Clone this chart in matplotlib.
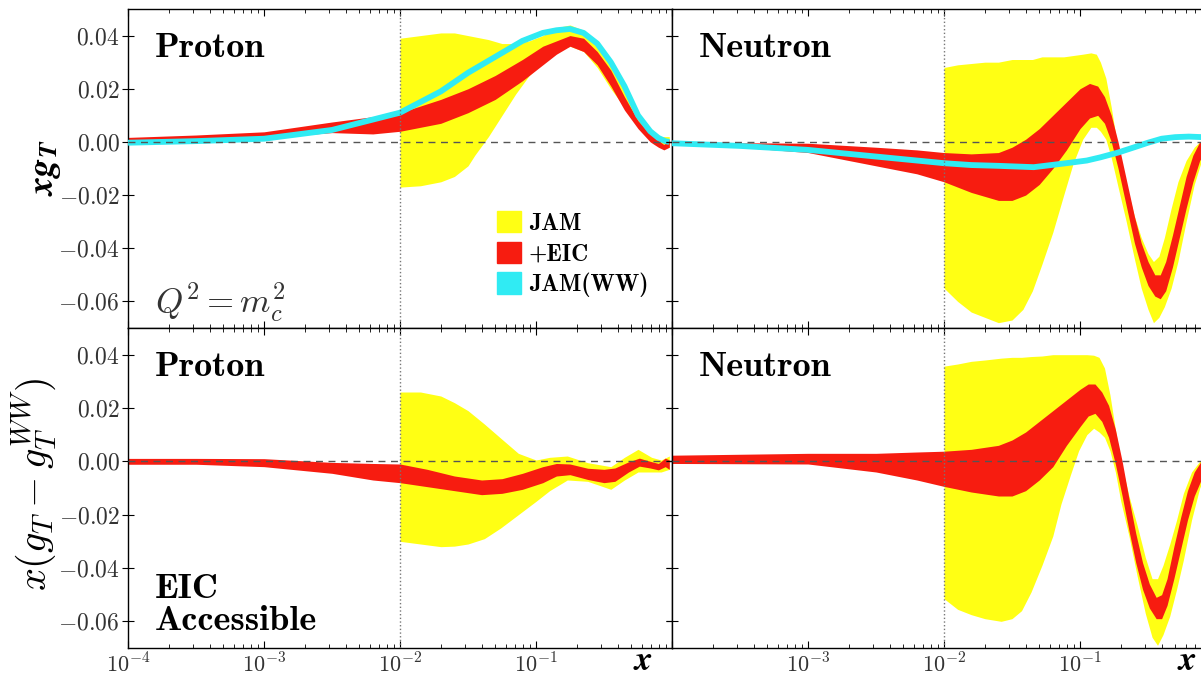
import numpy as np
import matplotlib
matplotlib.use("Agg")
import matplotlib.pyplot as plt
from matplotlib.patches import Patch
from matplotlib.ticker import FixedLocator, FixedFormatter, LogLocator, NullFormatter

plt.rcParams['mathtext.fontset'] = 'cm'
plt.rcParams['font.family'] = ['cmr10', 'DejaVu Serif']
plt.rcParams['axes.unicode_minus'] = False

# x positions are given as log10(x)

# ---- top left: proton x g_T ----
p_red_lx = [-4.0, -3.5, -3.0, -2.5, -2.2, -2.0, -1.7, -1.5, -1.3, -1.1, -0.95, -0.85, -0.75,
            -0.65, -0.55, -0.45, -0.35, -0.25, -0.16, -0.1, -0.06, -0.02]
p_red_hi = [0.0017, 0.0026, 0.0038, 0.0075, 0.0095, 0.011, 0.016, 0.020, 0.025, 0.031, 0.036, 0.038, 0.040,
            0.039, 0.034, 0.027, 0.017, 0.008, 0.003, 0.0005, -0.001, 0.001]
p_red_lo = [0.0005, 0.0008, 0.0015, 0.0035, 0.003, 0.004, 0.007, 0.011, 0.016, 0.023, 0.029, 0.033, 0.036,
            0.034, 0.029, 0.021, 0.012, 0.005, 0.0, -0.002, -0.003, -0.002]

p_yel_lx = [-2.0, -1.85, -1.7, -1.6, -1.5, -1.45, -1.35, -1.25, -1.15, -1.05, -0.95, -0.85, -0.75,
            -0.65, -0.55, -0.45, -0.35, -0.25, -0.15, -0.08, -0.02]
p_yel_hi = [0.039, 0.040, 0.041, 0.041, 0.040, 0.0395, 0.0385, 0.037, 0.037, 0.038, 0.040, 0.043, 0.044,
            0.042, 0.037, 0.029, 0.020, 0.011, 0.004, 0.002, 0.002]
p_yel_lo = [-0.017, -0.0165, -0.015, -0.013, -0.009, -0.005, 0.002, 0.010, 0.018, 0.025, 0.030, 0.034, 0.036,
            0.034, 0.028, 0.020, 0.013, 0.006, 0.001, -0.002, -0.002]

p_ww_lx = [-4.0, -3.5, -3.0, -2.5, -2.0, -1.7, -1.5, -1.3, -1.1, -0.95, -0.85, -0.75, -0.65,
           -0.55, -0.45, -0.35, -0.25, -0.16, -0.1, -0.05, -0.02]
p_ww = [-0.0003, 0.0003, 0.0012, 0.0045, 0.011, 0.019, 0.026, 0.032, 0.038, 0.041, 0.042, 0.0425, 0.041,
        0.037, 0.030, 0.021, 0.010, 0.004, 0.0015, 0.0003, 0.0]

# ---- top right: neutron x g_T ----
n_red_lx = [-4.0, -3.5, -3.0, -2.5, -2.2, -2.0, -1.8, -1.6, -1.5, -1.4, -1.3, -1.2, -1.1, -1.0,
            -0.93, -0.87, -0.82, -0.77, -0.72, -0.66, -0.6, -0.55, -0.5, -0.45, -0.41, -0.37,
            -0.32, -0.27, -0.22, -0.17, -0.12, -0.07, -0.03]
n_red_hi = [0.0, -0.0003, -0.0005, -0.002, -0.003, -0.004, -0.0045, -0.004, -0.002, 0.001, 0.005, 0.010, 0.015, 0.020,
            0.022, 0.021, 0.017, 0.010, 0.000, -0.014, -0.028, -0.038, -0.045, -0.050, -0.050, -0.045,
            -0.035, -0.024, -0.013, -0.005, 0.000, 0.001, 0.001]
n_red_lo = [-0.001, -0.002, -0.004, -0.009, -0.012, -0.015, -0.019, -0.022, -0.022, -0.020, -0.016, -0.010, -0.003, 0.005,
            0.009, 0.010, 0.007, 0.000, -0.010, -0.024, -0.038, -0.047, -0.054, -0.058, -0.059, -0.056,
            -0.047, -0.036, -0.025, -0.015, -0.007, -0.003, -0.001]

n_yel_lx = [-2.0, -1.9, -1.8, -1.7, -1.6, -1.5, -1.42, -1.35, -1.28, -1.2, -1.12, -1.05, -0.98,
            -0.92, -0.88, -0.85, -0.81, -0.77, -0.72, -0.66, -0.6, -0.55, -0.5, -0.46, -0.42,
            -0.38, -0.33, -0.28, -0.22, -0.16, -0.1, -0.05]
n_yel_hi = [0.028, 0.029, 0.0295, 0.030, 0.030, 0.031, 0.031, 0.031, 0.032, 0.032, 0.032, 0.0325, 0.033,
            0.0335, 0.033, 0.030, 0.024, 0.013, -0.003, -0.016, -0.028, -0.036, -0.042, -0.045, -0.043,
            -0.036, -0.025, -0.015, -0.007, -0.002, 0.001, 0.002]
n_yel_lo = [-0.055, -0.060, -0.064, -0.066, -0.068, -0.067, -0.063, -0.056, -0.046, -0.034, -0.020, -0.008, 0.001,
            0.0055, 0.0055, 0.004, 0.001, -0.006, -0.017, -0.030, -0.044, -0.055, -0.063, -0.068, -0.066,
            -0.062, -0.055, -0.045, -0.030, -0.016, -0.006, -0.002]

n_ww_lx = [-4.0, -3.5, -3.0, -2.5, -2.0, -1.8, -1.6, -1.34, -1.1, -0.95, -0.85, -0.72, -0.6,
           -0.5, -0.4, -0.3, -0.2, -0.1, -0.02]
n_ww = [-0.0005, -0.0015, -0.003, -0.0055, -0.008, -0.0087, -0.009, -0.0095, -0.008, -0.007, -0.0058,
        -0.004, -0.002, -0.0003, 0.0012, 0.0018, 0.002, 0.0018, 0.0]

# ---- bottom left: proton x(g_T - g_T^WW) ----
pd_red_lx = [-4.0, -3.5, -3.0, -2.5, -2.2, -2.0, -1.8, -1.6, -1.4, -1.25, -1.1, -0.95,
             -0.85, -0.75, -0.62, -0.5, -0.42, -0.32, -0.24, -0.16, -0.1, -0.05, -0.02]
pd_red_hi = [0.0011, 0.0011, 0.0010, -0.0004, -0.0008, -0.001, -0.003, -0.0055, -0.007, -0.0065, -0.0045, -0.002,
             -0.0008, -0.001, -0.0026, -0.003, -0.0025, -0.0002, 0.0012, 0.0, -0.0008, 0.0012, 0.0005]
pd_red_lo = [-0.0011, -0.0011, -0.002, -0.0045, -0.007, -0.008, -0.0095, -0.011, -0.0125, -0.012, -0.0105, -0.008,
             -0.0055, -0.005, -0.0068, -0.008, -0.0075, -0.004, -0.0018, -0.0025, -0.0032, -0.002, -0.003]

pd_yel_lx = [-2.0, -1.85, -1.7, -1.6, -1.5, -1.38, -1.26, -1.13, -1.0, -0.9, -0.77, -0.62,
             -0.45, -0.35, -0.25, -0.15, -0.08, -0.02]
pd_yel_hi = [0.026, 0.026, 0.0245, 0.022, 0.019, 0.014, 0.0087, 0.003, 0.0005, 0.0015, 0.002, -0.0005,
             -0.002, 0.0015, 0.0045, 0.0015, 0.0005, 0.002]
pd_yel_lo = [-0.030, -0.031, -0.032, -0.0318, -0.031, -0.029, -0.025, -0.020, -0.015, -0.011, -0.007, -0.0075,
             -0.0105, -0.007, -0.004, -0.004, -0.004, -0.003]

# ---- bottom right: neutron x(g_T - g_T^WW) ----
nd_red_lx = [-4.0, -3.0, -2.5, -2.2, -2.0, -1.8, -1.6, -1.5, -1.4, -1.3, -1.2, -1.1, -1.0,
             -0.94, -0.89, -0.84, -0.79, -0.74, -0.69, -0.64, -0.59, -0.54, -0.49, -0.44, -0.40,
             -0.36, -0.31, -0.26, -0.21, -0.16, -0.11, -0.06, -0.03]
nd_red_hi = [0.0023, 0.003, 0.003, 0.0035, 0.0038, 0.0045, 0.006, 0.008, 0.011, 0.015, 0.019, 0.023, 0.027,
             0.029, 0.029, 0.026, 0.021, 0.012, 0.000, -0.014, -0.027, -0.038, -0.046, -0.051, -0.050,
             -0.044, -0.032, -0.021, -0.011, -0.004, 0.000, 0.001, 0.001]
nd_red_lo = [-0.0008, -0.001, -0.004, -0.007, -0.0094, -0.0115, -0.013, -0.013, -0.011, -0.007, -0.002, 0.006, 0.013,
             0.017, 0.018, 0.015, 0.009, -0.001, -0.013, -0.026, -0.038, -0.048, -0.055, -0.059, -0.059,
             -0.054, -0.044, -0.033, -0.022, -0.013, -0.007, -0.003, -0.001]

nd_yel_lx = [-2.0, -1.9, -1.8, -1.7, -1.58, -1.5, -1.43, -1.36, -1.28, -1.2, -1.14, -1.07, -1.01,
             -0.95, -0.9, -0.86, -0.82, -0.78, -0.74, -0.7, -0.64, -0.58, -0.52, -0.47, -0.43,
             -0.39, -0.34, -0.29, -0.24, -0.18, -0.12, -0.06, -0.03]
nd_yel_hi = [0.0357, 0.0365, 0.0375, 0.038, 0.0387, 0.039, 0.039, 0.0393, 0.0395, 0.040, 0.040, 0.040, 0.040,
             0.040, 0.0398, 0.039, 0.035, 0.025, 0.012, 0.000, -0.013, -0.024, -0.036, -0.044, -0.044,
             -0.039, -0.031, -0.022, -0.012, -0.004, 0.000, 0.002, 0.002]
nd_yel_lo = [-0.0515, -0.0555, -0.0575, -0.059, -0.060, -0.059, -0.056, -0.049, -0.039, -0.028, -0.016, -0.005, 0.004,
             0.010, 0.0124, 0.011, 0.009, 0.004, -0.004, -0.015, -0.028, -0.043, -0.057, -0.066, -0.069,
             -0.065, -0.058, -0.048, -0.037, -0.022, -0.010, -0.003, -0.001]

YELLOW = '#ffff14'
RED = '#f71c10'
CYAN = '#30ebf3'

yticks = [-0.06, -0.04, -0.02, 0.0, 0.02, 0.04]
xmajor = [1e-4, 1e-3, 1e-2, 1e-1, 1.0]


def band(ax, lx, lo, hi, color, z):
    ax.fill_between(10 ** np.array(lx), lo, hi, color=color, lw=0, zorder=z)


def style(ax, show_ylabels, xlabels):
    ax.set_xscale('log')
    ax.set_xlim(1e-4, 1.0)
    ax.set_ylim(-0.07, 0.05)
    ax.axhline(0, color='#555555', ls=(0, (5, 4)), lw=1.0, zorder=5)
    ax.axvline(1e-2, color='#777777', ls=':', lw=1.0, zorder=5)
    ax.xaxis.set_major_locator(FixedLocator(xmajor))
    ax.xaxis.set_minor_locator(LogLocator(base=10, subs=np.arange(2, 10)))
    ax.xaxis.set_minor_formatter(NullFormatter())
    if xlabels is None:
        ax.xaxis.set_major_formatter(NullFormatter())
    else:
        ax.xaxis.set_major_formatter(FixedFormatter(xlabels))
    ax.yaxis.set_major_locator(FixedLocator(yticks))
    if show_ylabels:
        ax.yaxis.set_major_formatter(FixedFormatter([r'$%.2f$' % v if v != 0 else r'$0.00$' for v in yticks]))
    else:
        ax.yaxis.set_major_formatter(NullFormatter())
    ax.tick_params(axis='x', which='both', direction='in', top=True, bottom=True,
                   labelsize=16, labelcolor='#333333', pad=3)
    ax.tick_params(axis='x', which='major', length=5, width=0.8)
    ax.tick_params(axis='x', which='minor', length=3, width=0.6)
    ax.tick_params(axis='y', direction='inout', left=True, right=True, length=8, width=0.8,
                   labelsize=17, labelcolor='#333333', pad=2)
    for s in ax.spines.values():
        s.set_linewidth(1.0)


fig = plt.figure(figsize=(12.01, 6.76), dpi=100)
W = 544 / 1201
xl = 128 / 1201
xr = 672 / 1201
ax_tl = fig.add_axes([xl, 348 / 676, W, 319 / 676])
ax_tr = fig.add_axes([xr, 348 / 676, W, 319 / 676])
ax_bl = fig.add_axes([xl, 28 / 676, W, 320 / 676])
ax_br = fig.add_axes([xr, 28 / 676, W, 320 / 676])

# top left
band(ax_tl, p_yel_lx, p_yel_lo, p_yel_hi, YELLOW, 1)
band(ax_tl, p_red_lx, p_red_lo, p_red_hi, RED, 2)
ax_tl.plot(10 ** np.array(p_ww_lx), p_ww, color=CYAN, lw=4.2, zorder=3, solid_capstyle='butt')
style(ax_tl, True, None)

# top right
band(ax_tr, n_yel_lx, n_yel_lo, n_yel_hi, YELLOW, 1)
band(ax_tr, n_red_lx, n_red_lo, n_red_hi, RED, 2)
ax_tr.plot(10 ** np.array(n_ww_lx), n_ww, color=CYAN, lw=4.2, zorder=3, solid_capstyle='butt')
style(ax_tr, False, None)

# bottom left
band(ax_bl, pd_yel_lx, pd_yel_lo, pd_yel_hi, YELLOW, 1)
band(ax_bl, pd_red_lx, pd_red_lo, pd_red_hi, RED, 2)
style(ax_bl, True, [r'$10^{-4}$', r'$10^{-3}$', r'$10^{-2}$', r'$10^{-1}$', ''])

# bottom right
band(ax_br, nd_yel_lx, nd_yel_lo, nd_yel_hi, YELLOW, 1)
band(ax_br, nd_red_lx, nd_red_lo, nd_red_hi, RED, 2)
style(ax_br, False, ['', r'$10^{-3}$', r'$10^{-2}$', r'$10^{-1}$', ''])

# panel texts
for ax, name in [(ax_tl, 'Proton'), (ax_tr, 'Neutron'), (ax_bl, 'Proton'), (ax_br, 'Neutron')]:
    ax.text(0.05, 0.85, name, transform=ax.transAxes, family='cmb10', fontsize=26,
            va='baseline', ha='left')

ax_tl.text(0.05, 0.047, r'$Q^2 = m_c^2$', transform=ax_tl.transAxes, fontsize=25,
           va='baseline', ha='left', color='#333333')
ax_bl.text(0.05, 0.156, 'EIC', transform=ax_bl.transAxes, family='cmb10', fontsize=26,
           va='baseline', ha='left')
ax_bl.text(0.05, 0.056, 'Accessible', transform=ax_bl.transAxes, family='cmb10', fontsize=26,
           va='baseline', ha='left')

# axis labels
fig.text(47 / 1201, 1 - 168 / 676, r'$\mathbfit{x}\mathbfit{g}_{\mathbfit{T}}$', math_fontfamily='stix',
         fontsize=26, rotation=90, ha='center', va='center')
fig.text(34 / 1201, 1 - 484 / 676, r'$x(g_T - g_T^{WW})$', fontsize=29, rotation=90,
         ha='center', va='center')
for xpos in [643, 1187]:
    fig.text(xpos / 1201, 1 - 661 / 676, r'$\mathbfit{x}$', math_fontfamily='stix',
             fontsize=25, ha='center', va='center')

# legend
handles = [Patch(color=YELLOW, label='JAM'), Patch(color=RED, label='+EIC'),
           Patch(color=CYAN, label='JAM(WW)')]
ax_tl.legend(handles=handles, loc='lower left', bbox_to_anchor=(0.657, 0.06), frameon=False,
             prop={'family': 'cmb10', 'size': 17}, handlelength=1.0, handleheight=1.0,
             handletextpad=0.35, labelspacing=0.3, borderpad=0.0)

fig.savefig('out.png', dpi=100)
